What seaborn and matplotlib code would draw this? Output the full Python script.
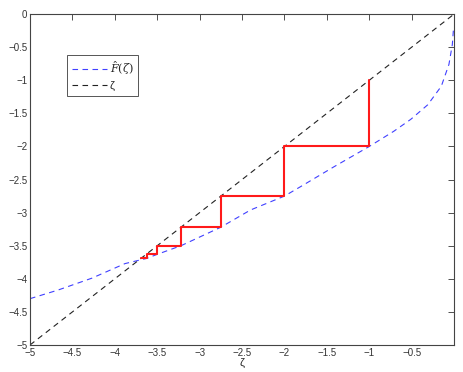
import numpy as np
import pandas as pd
import matplotlib
matplotlib.use("Agg")
import matplotlib.pyplot as plt
import seaborn as sns

# values
zeta = [-5.0, 0.0]
f_x = [-5.0, -4.67, -4.27, -3.88, -3.62, -3.5, -3.22, -2.75, -2.4, -2.0,
       -1.8, -1.42, -1.0, -0.71, -0.51, -0.31, -0.15, -0.06, -0.02, -0.005]
f_y = [-4.30, -4.17, -3.99, -3.77, -3.69, -3.63, -3.50, -3.22, -2.96, -2.75,
       -2.60, -2.31, -2.0, -1.77, -1.59, -1.37, -1.09, -0.76, -0.46, -0.2]
step_x = [-1.0, -1.0, -2.0, -2.0, -2.75, -2.75, -3.22, -3.22, -3.5, -3.5, -3.62, -3.62, -3.69]
step_y = [-1.0, -2.0, -2.0, -2.75, -2.75, -3.22, -3.22, -3.5, -3.5, -3.62, -3.62, -3.69, -3.69]

sns.set_style("white")
plt.rcParams['font.family'] = ['Liberation Sans', 'DejaVu Sans']
plt.rcParams['mathtext.fontset'] = 'dejavuserif'

fig = plt.figure(figsize=(4.63, 3.72), dpi=100)
ax = fig.add_axes([0.0648, 0.0726, 0.9158, 0.8894])

curve = pd.DataFrame({'x': f_x, 'y': f_y})
diag = pd.DataFrame({'x': zeta, 'y': zeta})
steps = pd.DataFrame({'x': step_x, 'y': step_y})

sns.lineplot(data=curve, x='x', y='y', ax=ax, color='#4040ff', lw=0.8,
             estimator=None, sort=False, label=r'$\hat{F}(\zeta)$')
sns.lineplot(data=diag, x='x', y='y', ax=ax, color='#222222', lw=0.8,
             estimator=None, sort=False, label='\u03b6')
for l in ax.lines:
    l.set_dashes((5, 4))
sns.lineplot(data=steps, x='x', y='y', ax=ax, color='#ff1a1a', lw=1.5,
             estimator=None, sort=False)

ax.set_xlim(-5, 0)
ax.set_ylim(-5, 0)
ax.set_xticks(np.arange(-5, 0, 0.5))
ax.set_yticks(np.arange(-5, 0.01, 0.5))
ax.set_xticklabels(['\u22125', '\u22124.5', '\u22124', '\u22123.5', '\u22123', '\u22122.5',
                    '\u22122', '\u22121.5', '\u22121', '\u22120.5'])
ax.set_yticklabels(['\u22125', '\u22124.5', '\u22124', '\u22123.5', '\u22123', '\u22122.5',
                    '\u22122', '\u22121.5', '\u22121', '\u22120.5', '0'])
ax.tick_params(direction='in', length=4, width=0.6, labelsize=7, colors='#333333',
               top=True, right=True, pad=2)
for s in ax.spines.values():
    s.set_linewidth(0.8)
    s.set_color('#444444')

ax.set_xlabel('\u03b6', fontsize=8, labelpad=0)
ax.set_ylabel('')

leg = ax.legend(loc='upper left', bbox_to_anchor=(0.075, 0.892), fontsize=8,
                fancybox=False, edgecolor='#555555', framealpha=1,
                handlelength=3.2, borderpad=0.4, labelspacing=0.35, handletextpad=0.2)
leg.get_frame().set_linewidth(0.7)

fig.savefig('out.png', dpi=100)
